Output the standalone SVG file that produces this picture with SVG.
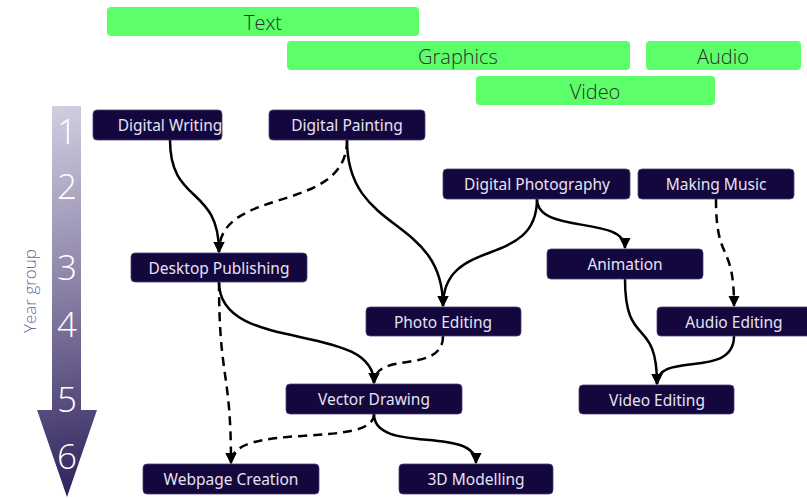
<svg xmlns="http://www.w3.org/2000/svg" width="807" height="499" viewBox="0 0 807 499">
  <defs>
    <linearGradient id="yearGrad" gradientUnits="userSpaceOnUse" x1="35" y1="106" x2="105" y2="497">
      <stop offset="0" stop-color="#d3cfe2"/>
      <stop offset="0.45" stop-color="#8d84a9"/>
      <stop offset="1" stop-color="#2b1f58"/>
    </linearGradient>
    <marker id="arrow" viewBox="0 0 10 10" refX="9" refY="5" markerWidth="4.6" markerHeight="4.6" orient="auto" markerUnits="strokeWidth">
      <path d="M0,0 L10,5 L0,10 z" fill="#000"/>
    </marker>
    <style>
      .band rect { fill: #5cff6a; }
      .band text { font-family: "Open Sans", "Liberation Sans", sans-serif; font-weight: 300; font-size: 20px; fill: #2b2b2b; text-anchor: middle; dominant-baseline: central; }
      .node rect { fill: #13073d; stroke: #4a4075; stroke-width: 0.8; }
      .node text { font-family: "Noto Sans", "Liberation Sans", sans-serif; font-size: 15.5px; fill: #e6e2f3; text-anchor: middle; dominant-baseline: central; }
      .year { font-family: "Open Sans", "Liberation Sans", sans-serif; font-weight: 300; font-size: 35px; fill: #ffffff; text-anchor: middle; dominant-baseline: central; }
      .axis-label { font-family: "Open Sans", "Liberation Sans", sans-serif; font-weight: 300; font-size: 17px; fill: #6f6694; text-anchor: middle; dominant-baseline: central; }
      #connectors path { fill: none; stroke: #000; stroke-width: 2.5; marker-end: url(#arrow); }
      #connectors path.dashed { stroke-dasharray: 9 6; }
    </style>
  </defs>

  <rect width="807" height="499" fill="#ffffff"/>

  <!-- media bands -->
  <g id="band-text" class="band"><rect x="107" y="7" width="312" height="29" rx="4"/><text x="263" y="22">Text</text></g>
  <g id="band-graphics" class="band"><rect x="287" y="41" width="343" height="29" rx="4"/><text x="458" y="56">Graphics</text></g>
  <g id="band-audio" class="band"><rect x="646" y="41" width="155" height="29" rx="4"/><text x="723" y="56">Audio</text></g>
  <g id="band-video" class="band"><rect x="476" y="76" width="239" height="29" rx="4"/><text x="595" y="91">Video</text></g>

  <!-- year group axis -->
  <g id="year-axis">
    <path d="M52,106 L81,106 L81,410 L97,410 L67,497 L37,410 L52,410 Z" fill="url(#yearGrad)"/>
    <text class="year" x="67" y="130">1</text>
    <text class="year" x="67" y="185">2</text>
    <text class="year" x="67" y="266">3</text>
    <text class="year" x="67" y="323">4</text>
    <text class="year" x="67" y="398">5</text>
    <text class="year" x="67" y="455">6</text>
    <text class="axis-label" transform="translate(29,291) rotate(-90)">Year group</text>
  </g>

  <!-- connectors -->
  <g id="connectors">
    <path d="M170,140 C170,205 219,185 219,252"/>
    <path class="dashed" d="M347,140 C347,215 219,185 219,252"/>
    <path d="M347,140 C347,235 443,215 443,306"/>
    <path d="M537,199 C537,270 443,235 443,306"/>
    <path d="M537,199 C537,235 625,215 625,248"/>
    <path class="dashed" d="M716,199 C716,265 734,240 734,306"/>
    <path d="M625,279 C625,350 657,315 657,384"/>
    <path d="M734,336 C734,380 657,350 657,384"/>
    <path d="M219,282 C219,355 374,320 374,383"/>
    <path class="dashed" d="M219,282 C219,380 231,370 231,463"/>
    <path class="dashed" d="M443,336 C443,375 374,350 374,383"/>
    <path class="dashed" d="M374,414 C374,450 231,420 231,463"/>
    <path d="M374,414 C374,455 476,425 476,463"/>
  </g>

  <!-- nodes -->
  <g id="digital-writing" class="node"><rect x="93" y="110" width="129" height="30" rx="4"/><text x="170" y="125">Digital Writing</text></g>
  <g id="digital-painting" class="node"><rect x="269" y="110" width="156" height="30" rx="4"/><text x="347" y="125">Digital Painting</text></g>
  <g id="digital-photography" class="node"><rect x="443" y="169" width="187" height="30" rx="4"/><text x="537" y="184">Digital Photography</text></g>
  <g id="making-music" class="node"><rect x="638" y="169" width="156" height="30" rx="4"/><text x="716" y="184">Making Music</text></g>
  <g id="desktop-publishing" class="node"><rect x="131" y="253" width="176" height="29" rx="4"/><text x="219" y="267.5">Desktop Publishing</text></g>
  <g id="animation" class="node"><rect x="547" y="249" width="156" height="30" rx="4"/><text x="625" y="264">Animation</text></g>
  <g id="photo-editing" class="node"><rect x="366" y="307" width="155" height="29" rx="4"/><text x="443" y="321.5">Photo Editing</text></g>
  <g id="audio-editing" class="node"><rect x="657" y="307" width="156" height="29" rx="4"/><text x="734" y="321.5">Audio Editing</text></g>
  <g id="vector-drawing" class="node"><rect x="286" y="384" width="176" height="30" rx="4"/><text x="374" y="399">Vector Drawing</text></g>
  <g id="video-editing" class="node"><rect x="579" y="385" width="155" height="29" rx="4"/><text x="657" y="399.5">Video Editing</text></g>
  <g id="webpage-creation" class="node"><rect x="143" y="464" width="176" height="30" rx="4"/><text x="231" y="479">Webpage Creation</text></g>
  <g id="3d-modelling" class="node"><rect x="399" y="464" width="154" height="30" rx="4"/><text x="476" y="479">3D Modelling</text></g>
</svg>
